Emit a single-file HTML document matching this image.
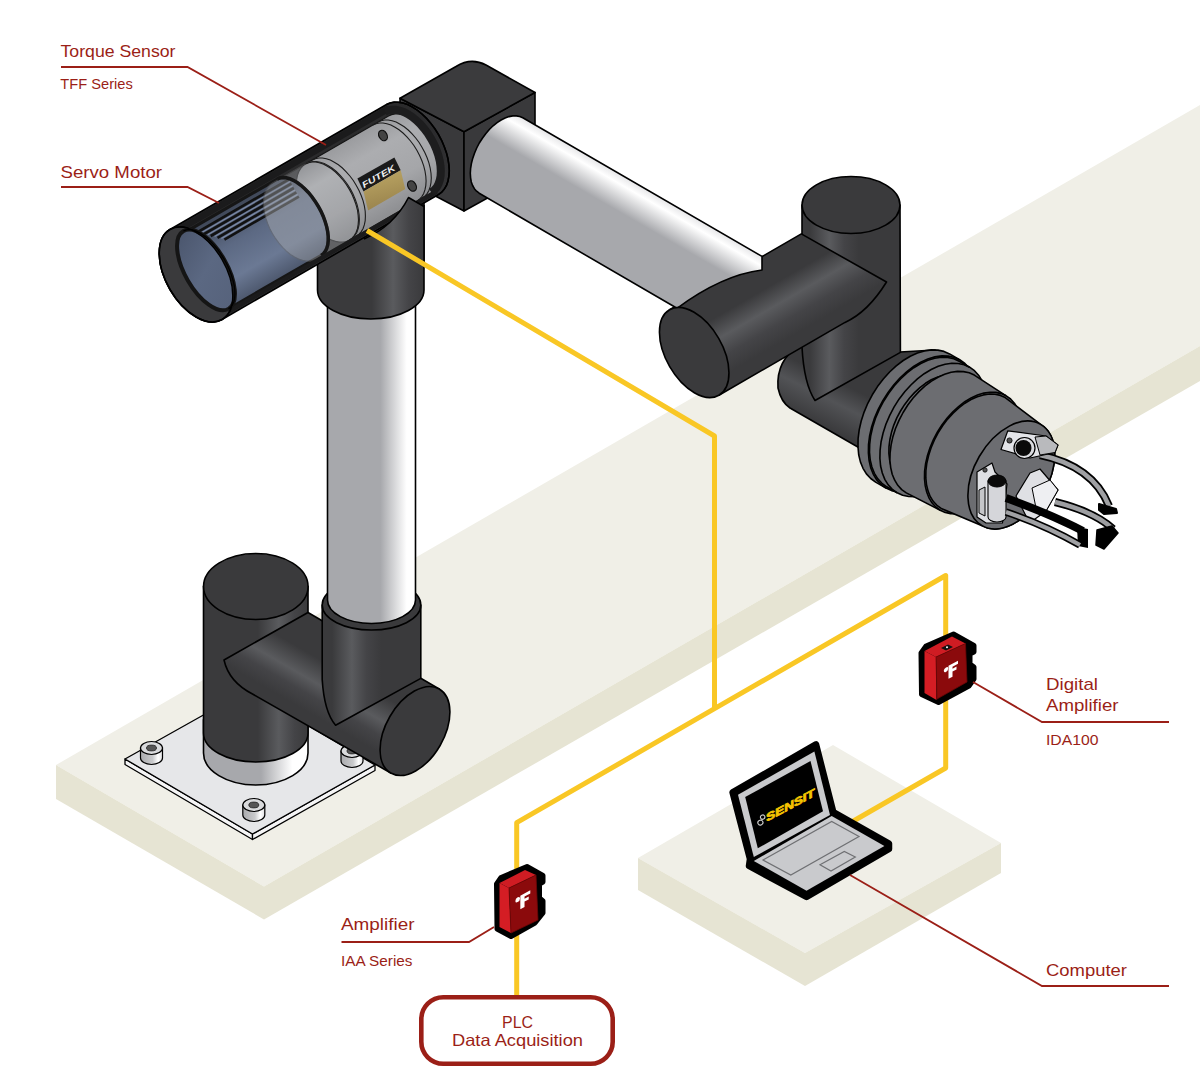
<!DOCTYPE html>
<html><head><meta charset="utf-8">
<style>
html,body{margin:0;padding:0;background:#fff;width:1200px;height:1080px;overflow:hidden}
svg{display:block}
text{font-family:"Liberation Sans",sans-serif}
</style></head><body>
<svg width="1200" height="1080" viewBox="0 0 1200 1080">
<defs>
<linearGradient id="gs151" gradientUnits="userSpaceOnUse" x1="140.5" y1="0.0" x2="162.5" y2="0.0"><stop offset="0" stop-color="#a9aaad"/><stop offset="0.55" stop-color="#c9cacc"/><stop offset="0.8" stop-color="#fff"/><stop offset="1" stop-color="#e0e0e2"/></linearGradient>
<linearGradient id="gs253" gradientUnits="userSpaceOnUse" x1="242.8" y1="0.0" x2="264.8" y2="0.0"><stop offset="0" stop-color="#a9aaad"/><stop offset="0.55" stop-color="#c9cacc"/><stop offset="0.8" stop-color="#fff"/><stop offset="1" stop-color="#e0e0e2"/></linearGradient>
<linearGradient id="gs352" gradientUnits="userSpaceOnUse" x1="341.0" y1="0.0" x2="363.0" y2="0.0"><stop offset="0" stop-color="#a9aaad"/><stop offset="0.55" stop-color="#c9cacc"/><stop offset="0.8" stop-color="#fff"/><stop offset="1" stop-color="#e0e0e2"/></linearGradient>
<linearGradient id="gcolb" gradientUnits="userSpaceOnUse" x1="203.5" y1="0.0" x2="308.0" y2="0.0"><stop offset="0" stop-color="#a7a8ac"/><stop offset="0.55" stop-color="#a7a8ac"/><stop offset="0.85" stop-color="#fff"/><stop offset="1" stop-color="#fff"/></linearGradient>
<linearGradient id="gbase" gradientUnits="userSpaceOnUse" x1="203.5" y1="0.0" x2="308.0" y2="0.0"><stop offset="0" stop-color="#3a3a3c"/><stop offset="0.52" stop-color="#3a3a3c"/><stop offset="0.72" stop-color="#5a5b5e"/><stop offset="0.87" stop-color="#444447"/><stop offset="1" stop-color="#3a3a3c"/><stop offset="1" stop-color="#3a3a3c"/></linearGradient>
<linearGradient id="glow" gradientUnits="userSpaceOnUse" x1="439.2" y1="689.0" x2="390.8" y2="773.0"><stop offset="0" stop-color="#3a3a3c"/><stop offset="0.35" stop-color="#3a3a3c"/><stop offset="0.58" stop-color="#5a5b5e"/><stop offset="0.72" stop-color="#444447"/><stop offset="0.88" stop-color="#3a3a3c"/><stop offset="1" stop-color="#3a3a3c"/></linearGradient>
<linearGradient id="gcoll" gradientUnits="userSpaceOnUse" x1="322.2" y1="0.0" x2="420.8" y2="0.0"><stop offset="0" stop-color="#3a3a3c"/><stop offset="0.09999999999999998" stop-color="#3a3a3c"/><stop offset="0.3" stop-color="#5a5b5e"/><stop offset="0.44999999999999996" stop-color="#444447"/><stop offset="0.6" stop-color="#3a3a3c"/><stop offset="1" stop-color="#3a3a3c"/></linearGradient>
<linearGradient id="gcol" gradientUnits="userSpaceOnUse" x1="327.5" y1="0.0" x2="415.5" y2="0.0"><stop offset="0" stop-color="#a7a8ac"/><stop offset="0.6" stop-color="#a7a8ac"/><stop offset="0.9" stop-color="#fff"/><stop offset="1" stop-color="#fff"/></linearGradient>
<linearGradient id="gsh" gradientUnits="userSpaceOnUse" x1="317.5" y1="0.0" x2="424.0" y2="0.0"><stop offset="0" stop-color="#3a3a3c"/><stop offset="0.51" stop-color="#3a3a3c"/><stop offset="0.71" stop-color="#5a5b5e"/><stop offset="0.86" stop-color="#444447"/><stop offset="1" stop-color="#3a3a3c"/><stop offset="1" stop-color="#3a3a3c"/></linearGradient>
<linearGradient id="ghous" gradientUnits="userSpaceOnUse" x1="170.0" y1="229.5" x2="222.0" y2="319.5"><stop offset="0" stop-color="#2a2a2b"/><stop offset="0.5" stop-color="#2c2c2e"/><stop offset="1" stop-color="#333335"/></linearGradient>
<linearGradient id="gmot" gradientUnits="userSpaceOnUse" x1="174.0" y1="236.4" x2="218.0" y2="312.6"><stop offset="0" stop-color="#3d4555"/><stop offset="0.4" stop-color="#5c6983"/><stop offset="0.75" stop-color="#6b7994"/><stop offset="1" stop-color="#4f5a70"/></linearGradient>
<linearGradient id="gsen" gradientUnits="userSpaceOnUse" x1="303.9" y1="161.4" x2="347.9" y2="237.6"><stop offset="0" stop-color="#98999c"/><stop offset="0.3" stop-color="#acadb0"/><stop offset="0.7" stop-color="#a5a6a9"/><stop offset="1" stop-color="#8f9093"/></linearGradient>
<linearGradient id="gring" gradientUnits="userSpaceOnUse" x1="174.0" y1="236.4" x2="218.0" y2="312.6"><stop offset="0" stop-color="#8a8c90"/><stop offset="0.3" stop-color="#b4b6b9"/><stop offset="1" stop-color="#9a9ca0"/></linearGradient>
<linearGradient id="ggold" gradientUnits="userSpaceOnUse" x1="380.0" y1="180.0" x2="388.0" y2="210.0"><stop offset="0" stop-color="#b39d5e"/><stop offset="1" stop-color="#97814b"/></linearGradient>
<linearGradient id="gface" gradientUnits="userSpaceOnUse" x1="183.5" y1="230.9" x2="228.5" y2="308.8"><stop offset="0" stop-color="#4a556c"/><stop offset="0.5" stop-color="#5b6882"/><stop offset="1" stop-color="#56627b"/></linearGradient>
<linearGradient id="garm" gradientUnits="userSpaceOnUse" x1="522.8" y1="117.8" x2="479.2" y2="193.2"><stop offset="0" stop-color="#e6e6e8"/><stop offset="0.1" stop-color="#fff"/><stop offset="0.38" stop-color="#a7a8ac"/><stop offset="1" stop-color="#a7a8ac"/></linearGradient>
<linearGradient id="gwr" gradientUnits="userSpaceOnUse" x1="800.0" y1="340.0" x2="770.0" y2="400.0"><stop offset="0" stop-color="#3a3a3c"/><stop offset="0.3" stop-color="#3a3a3c"/><stop offset="0.6" stop-color="#525356"/><stop offset="1" stop-color="#3a3a3c"/></linearGradient>
<linearGradient id="gev" gradientUnits="userSpaceOnUse" x1="802.0" y1="0.0" x2="900.0" y2="0.0"><stop offset="0" stop-color="#3a3a3c"/><stop offset="0.08000000000000002" stop-color="#3a3a3c"/><stop offset="0.28" stop-color="#5a5b5e"/><stop offset="0.43000000000000005" stop-color="#444447"/><stop offset="0.5800000000000001" stop-color="#3a3a3c"/><stop offset="1" stop-color="#3a3a3c"/></linearGradient>
<linearGradient id="geh" gradientUnits="userSpaceOnUse" x1="669.6" y1="309.8" x2="718.9" y2="395.2"><stop offset="0" stop-color="#3a3a3c"/><stop offset="0.3" stop-color="#3a3a3c"/><stop offset="0.5" stop-color="#5a5b5e"/><stop offset="0.68" stop-color="#444447"/><stop offset="0.85" stop-color="#3a3a3c"/><stop offset="1" stop-color="#3a3a3c"/></linearGradient>
</defs>

<!-- big table -->
<g id="table">
<polygon points="56,765 264,886.5 1200,346 1200,105" fill="#f0efe7"/>
<polygon points="56,765 264,886.5 264,919.5 56,799" fill="#e6e4d3"/>
<polygon points="264,886.5 1200,346 1200,381 264,919.5" fill="#e6e4d3"/>
</g>
<!-- small table -->
<g id="table2">
<polygon points="833,745 1001,843 805,953 638,858" fill="#f0efe7"/>
<polygon points="638,858 805,953 805,986 638,890" fill="#e6e4d3"/>
<polygon points="805,953 1001,843 1001,873 805,986" fill="#e6e4d3"/>
</g>

<!-- ROBOT -->
<g id="robot">
<polygon points="125.0,759.0 252.5,834.0 252.5,839.5 125.0,764.5" fill="#f5f5f6" stroke="#000" stroke-width="1.3" stroke-linejoin="round"/>
<polygon points="252.5,834.0 375.0,765.0 375.0,770.5 252.5,839.5" fill="#f5f5f6" stroke="#000" stroke-width="1.3" stroke-linejoin="round"/>
<polygon points="248.0,690.0 375.0,765.0 252.5,834.0 125.0,759.0" fill="#e6e7e9" stroke="#000" stroke-width="1.3" stroke-linejoin="round"/>
<path d="M140.5,748.0 L140.5,758.0 A11,6.5 0 0 0 162.5,758.0 L162.5,748.0 Z" fill="url(#gs151)" stroke="#000" stroke-width="1.2"/><ellipse cx="151.5" cy="748.0" rx="11" ry="6.5" fill="#d9dadc" stroke="#000" stroke-width="1.2"/><ellipse cx="151.5" cy="748.0" rx="5.0" ry="2.9" fill="#555" stroke="#222" stroke-width="0.8"/>
<path d="M242.8,805.0 L242.8,815.0 A11,6.5 0 0 0 264.8,815.0 L264.8,805.0 Z" fill="url(#gs253)" stroke="#000" stroke-width="1.2"/><ellipse cx="253.8" cy="805.0" rx="11" ry="6.5" fill="#d9dadc" stroke="#000" stroke-width="1.2"/><ellipse cx="253.8" cy="805.0" rx="5.0" ry="2.9" fill="#555" stroke="#222" stroke-width="0.8"/>
<path d="M341.0,751.0 L341.0,761.0 A11,6.5 0 0 0 363.0,761.0 L363.0,751.0 Z" fill="url(#gs352)" stroke="#000" stroke-width="1.2"/><ellipse cx="352.0" cy="751.0" rx="11" ry="6.5" fill="#d9dadc" stroke="#000" stroke-width="1.2"/><ellipse cx="352.0" cy="751.0" rx="5.0" ry="2.9" fill="#555" stroke="#222" stroke-width="0.8"/>
<path d="M203.5,720 L203.5,753 A52.25,32 0 0 0 308.0,753 L308.0,720 Z" fill="url(#gcolb)" stroke="#000" stroke-width="1.6"/>
<path d="M203.5,586.5 L203.5,733 A52.25,29 0 0 0 308.0,733 L308.0,586.5 Z" fill="url(#gbase)" stroke="#000" stroke-width="1.6"/>
<ellipse cx="255.8" cy="586.5" rx="52.25" ry="33" fill="#3a3a3c" stroke="#000" stroke-width="1.6"/>
<path d="M308,612.5 L439.2,689.0 L390.8,773.0 L252.5,694 Q229,682 224,660 Z" fill="url(#glow)" stroke="#000" stroke-width="1.6" stroke-linejoin="round"/>
<ellipse cx="415.0" cy="731.0" rx="29.0" ry="48.5" transform="rotate(30.00 415.0 731.0)" fill="#3a3a3c" stroke="#000" stroke-width="1.6"/>
<path d="M322.2,605 L322.2,679.5 Q324.2,712 335.6,725.3 L420.8,678.4 L420.8,605 Z" fill="url(#gcoll)" stroke="#000" stroke-width="1.6" stroke-linejoin="round"/>
<ellipse cx="371.5" cy="605" rx="49.3" ry="25" fill="#3a3a3c" stroke="#000" stroke-width="1.6"/>
<path d="M327.5,290 L327.5,600 A44,23.5 0 0 0 415.5,600 L415.5,290 Z" fill="url(#gcol)" stroke="#000" stroke-width="1.6"/>
<path d="M317.5,200 L317.5,290 A53.25,29 0 0 0 424.0,290 L424.0,200 Z" fill="url(#gsh)" stroke="#000" stroke-width="1.6"/>
<polygon points="400.0,98.2 464.0,131.7 464.0,211.0 400.0,177.5" fill="#39393b" stroke="#000" stroke-width="1.6" stroke-linejoin="round"/>
<polygon points="535.0,92.5 535.0,171.8 464.0,211.0 464.0,131.7" fill="#39393b" stroke="#000" stroke-width="1.6" stroke-linejoin="round"/>
<path d="M400,98.2 L456,66.5 Q471,57 486,65 L535,92.5 L464,131.7 Z" fill="#3b3b3d" stroke="#000" stroke-width="1.6" stroke-linejoin="round"/>
<polygon points="222.0,319.5 218.4,321.1 214.4,321.9 210.1,321.8 205.5,321.0 200.8,319.4 196.0,316.9 191.2,313.8 186.5,310.0 181.9,305.6 177.6,300.6 173.6,295.2 170.0,289.5 166.8,283.5 164.2,277.3 162.0,271.1 160.5,265.0 159.6,259.0 159.2,253.3 159.6,247.9 160.5,243.0 162.0,238.6 164.2,234.9 166.8,231.8 170.0,229.5 386.5,104.5 390.1,102.9 394.1,102.1 398.4,102.2 403.0,103.0 407.7,104.6 412.5,107.1 417.3,110.2 422.0,114.0 426.6,118.4 430.9,123.4 434.9,128.8 438.5,134.5 441.7,140.5 444.3,146.7 446.5,152.9 448.0,159.0 448.9,165.0 449.3,170.7 448.9,176.1 448.0,181.0 446.5,185.4 444.3,189.1 441.7,192.2 438.5,194.5" fill="url(#ghous)" stroke="#000" stroke-width="1.6"/>
<polygon points="349.4,240.2 346.3,241.5 343.0,242.2 339.3,242.2 335.5,241.4 331.5,240.1 327.4,238.0 323.3,235.4 319.4,232.1 315.5,228.4 311.9,224.2 308.5,219.7 305.4,214.8 302.7,209.7 300.5,204.5 298.7,199.2 297.4,194.0 296.6,189.0 296.3,184.1 296.6,179.6 297.4,175.4 298.7,171.8 300.5,168.6 302.7,166.0 305.4,164.0 388.5,116.0 391.6,114.7 395.0,114.0 398.6,114.0 402.5,114.7 406.5,116.1 410.5,118.2 414.6,120.8 418.6,124.0 422.4,127.8 426.1,132.0 429.5,136.5 432.5,141.4 435.2,146.5 437.5,151.7 439.3,156.9 440.6,162.2 441.4,167.2 441.7,172.1 441.4,176.6 440.6,180.7 439.3,184.4 437.5,187.6 435.2,190.2 432.5,192.2" fill="url(#gsen)" stroke="#151515" stroke-width="1.2"/>
<polyline points="306.3,163.5 309.3,162.2 312.7,161.5 316.4,161.5 320.2,162.2 324.2,163.6 328.3,165.7 332.3,168.3 336.3,171.5 340.2,175.3 343.8,179.5 347.2,184.0 350.3,188.9 353.0,194.0 355.2,199.2 357.0,204.4 358.3,209.7 359.1,214.7 359.4,219.6 359.1,224.1 358.3,228.2 357.0,231.9 355.2,235.1 353.0,237.7 350.3,239.7" fill="none" stroke="#1c1c1c" stroke-width="1.1"/>
<polyline points="312.3,160.0 315.4,158.7 318.8,158.0 322.4,158.0 326.3,158.7 330.3,160.1 334.3,162.2 338.4,164.8 342.4,168.0 346.2,171.8 349.9,176.0 353.3,180.5 356.3,185.4 359.0,190.5 361.3,195.7 363.1,200.9 364.4,206.2 365.2,211.2 365.4,216.1 365.2,220.6 364.4,224.7 363.1,228.4 361.3,231.6 359.0,234.2 356.3,236.2" fill="none" stroke="#1c1c1c" stroke-width="1.1"/>
<polyline points="373.0,125.0 376.0,123.7 379.4,123.0 383.0,123.0 386.9,123.7 390.9,125.1 395.0,127.2 399.0,129.8 403.0,133.0 406.9,136.8 410.5,141.0 413.9,145.5 417.0,150.4 419.6,155.5 421.9,160.7 423.7,165.9 425.0,171.2 425.8,176.2 426.1,181.1 425.8,185.6 425.0,189.7 423.7,193.4 421.9,196.6 419.6,199.2 417.0,201.2" fill="none" stroke="#1c1c1c" stroke-width="1.1"/>
<polyline points="378.1,122.0 381.2,120.7 384.6,120.0 388.2,120.0 392.1,120.7 396.1,122.1 400.1,124.2 404.2,126.8 408.2,130.0 412.1,133.8 415.7,138.0 419.1,142.5 422.1,147.4 424.8,152.5 427.1,157.7 428.9,162.9 430.2,168.2 431.0,173.2 431.3,178.1 431.0,182.6 430.2,186.7 428.9,190.4 427.1,193.6 424.8,196.2 422.1,198.2" fill="none" stroke="#1c1c1c" stroke-width="1.1"/>
<polygon points="228.5,308.8 225.9,309.9 222.8,310.4 219.6,310.1 216.1,309.2 212.4,307.7 208.6,305.5 204.8,302.7 201.0,299.3 197.3,295.5 193.8,291.2 190.5,286.6 187.5,281.7 184.8,276.7 182.4,271.5 180.5,266.3 179.0,261.2 178.0,256.3 177.5,251.6 177.5,247.2 177.9,243.2 178.9,239.7 180.3,236.8 182.2,234.4 184.5,232.6 277.2,179.1 279.9,178.0 282.9,177.6 286.2,177.8 289.7,178.7 293.3,180.3 297.1,182.5 300.9,185.3 304.7,188.7 308.4,192.5 311.9,196.7 315.2,201.4 318.2,206.2 321.0,211.3 323.3,216.5 325.2,221.7 326.7,226.8 327.7,231.7 328.2,236.4 328.2,240.8 327.8,244.7 326.8,248.2 325.4,251.2 323.5,253.6 321.2,255.3" fill="url(#gmot)" stroke="#161616" stroke-width="3"/>
<polyline points="197.1,232.3 288.9,179.3" fill="none" stroke="#111" stroke-width="2.6"/>
<polyline points="203.9,234.2 291.4,183.7" fill="none" stroke="#111" stroke-width="2.6"/>
<polyline points="210.7,236.0 293.9,188.0" fill="none" stroke="#111" stroke-width="2.6"/>
<polyline points="217.5,237.8 296.4,192.3" fill="none" stroke="#111" stroke-width="2.6"/>
<polyline points="224.4,239.6 298.9,196.6" fill="none" stroke="#111" stroke-width="2.6"/>
<polyline points="200.9,233.0 290.1,181.5" fill="none" stroke="#7b8aa8" stroke-width="1.2"/>
<polyline points="207.7,234.8 292.6,185.8" fill="none" stroke="#7b8aa8" stroke-width="1.2"/>
<polyline points="214.6,236.6 295.1,190.1" fill="none" stroke="#7b8aa8" stroke-width="1.2"/>
<polyline points="221.4,238.5 297.6,194.5" fill="none" stroke="#7b8aa8" stroke-width="1.2"/>
<g opacity="0.45"><polygon points="316.5,259.2 313.4,260.5 310.1,261.2 306.4,261.2 302.5,260.4 298.6,259.1 294.5,257.0 290.4,254.4 286.4,251.1 282.6,247.4 278.9,243.2 275.6,238.7 272.5,233.8 269.8,228.7 267.6,223.5 265.8,218.2 264.4,213.0 263.7,208.0 263.4,203.1 263.7,198.6 264.4,194.4 265.8,190.8 267.6,187.6 269.8,185.0 272.5,183.0 305.4,164.0 308.5,162.7 311.8,162.0 315.5,162.0 319.3,162.7 323.3,164.1 327.4,166.2 331.5,168.8 335.5,172.0 339.3,175.8 343.0,180.0 346.3,184.5 349.4,189.4 352.1,194.5 354.3,199.7 356.1,204.9 357.5,210.2 358.2,215.2 358.5,220.1 358.2,224.6 357.5,228.7 356.1,232.4 354.3,235.6 352.1,238.2 349.4,240.2" fill="url(#gring)" stroke="#666" stroke-width="1.2"/></g>
<polyline points="305.4,164.0 308.5,162.7 311.8,162.0 315.5,162.0 319.3,162.7 323.3,164.1 327.4,166.2 331.5,168.8 335.5,172.0 339.3,175.8 343.0,180.0 346.3,184.5 349.4,189.4 352.1,194.5 354.3,199.7 356.1,204.9 357.5,210.2 358.2,215.2 358.5,220.1 358.2,224.6 357.5,228.7 356.1,232.4 354.3,235.6 352.1,238.2 349.4,240.2" fill="none" stroke="#1c1c1c" stroke-width="1.1"/>
<polyline points="277.2,179.1 279.9,178.0 282.9,177.6 286.2,177.8 289.7,178.7 293.3,180.3 297.1,182.5 300.9,185.3 304.7,188.7 308.4,192.5 311.9,196.7 315.2,201.4 318.2,206.2 321.0,211.3 323.3,216.5 325.2,221.7 326.7,226.8 327.7,231.7 328.2,236.4 328.2,240.8 327.8,244.7 326.8,248.2 325.4,251.2 323.5,253.6 321.2,255.3" fill="none" stroke="#161616" stroke-width="3.5"/>
<polyline points="180.9,228.4 388.8,108.4" fill="none" stroke="#1b1b1c" stroke-width="6.5"/>
<polyline points="228.9,311.5 436.8,191.5" fill="none" stroke="#1b1b1c" stroke-width="4.5"/>
<polygon points="357.4,178.5 394.4,157.4 400.7,170.2 363.5,191.5" fill="#1a1a1a"/>
<polygon points="363.5,191.5 400.7,170.2 405.2,188.9 368.1,210.4" fill="url(#ggold)"/>
<text x="0" y="0" font-size="8.5" font-weight="bold" font-style="italic" fill="#eeeeee" transform="translate(364,188.2) rotate(-30)" textLength="37" lengthAdjust="spacingAndGlyphs">FUTEK</text>
<ellipse cx="412.0" cy="186.0" rx="4.0" ry="5.5" transform="rotate(-30.00 412.0 186.0)" fill="#444" stroke="#111" stroke-width="1.3"/>
<ellipse cx="383.0" cy="135.5" rx="4.0" ry="5.5" transform="rotate(-30.00 383.0 135.5)" fill="#444" stroke="#111" stroke-width="1.3"/>
<ellipse cx="196.0" cy="274.5" rx="30.0" ry="52.0" transform="rotate(-30.00 196.0 274.5)" fill="#3a3a3c" stroke="#000" stroke-width="1.6"/>
<ellipse cx="206.0" cy="269.9" rx="21.0" ry="45.0" transform="rotate(-30.00 206.0 269.9)" fill="url(#gface)" stroke="#151515" stroke-width="4"/>
<polyline points="183.5,230.9 186.1,229.9 189.0,229.5 192.2,229.8 195.6,230.9 199.2,232.6 203.0,234.9 206.8,237.8 210.5,241.3 214.2,245.3 217.8,249.6 221.1,254.4 224.2,259.4 227.0,264.5 229.4,269.8 231.4,275.1 233.0,280.3 234.2,285.3 234.8,290.0 234.9,294.4 234.6,298.4 233.8,301.9 232.5,304.8 230.7,307.1 228.5,308.8" fill="none" stroke="#000" stroke-width="1.2"/>
<ellipse cx="196.0" cy="274.5" rx="30.0" ry="52.0" transform="rotate(-30.00 196.0 274.5)" fill="none" stroke="#000" stroke-width="1.4"/>
<polyline points="384.9,111.7 388.1,110.3 391.7,109.7 395.5,109.7 399.5,110.5 403.7,112.0 408.0,114.2 412.2,117.0 416.4,120.4 420.5,124.3 424.3,128.8 427.9,133.6 431.1,138.8 434.0,144.1 436.4,149.6 438.3,155.2 439.7,160.7 440.5,166.0 440.8,171.1 440.6,175.9 439.8,180.2 438.4,184.1 436.6,187.5 434.2,190.2 431.4,192.3" fill="none" stroke="#1d1d1e" stroke-width="8"/>
<polyline points="386.5,104.5 390.1,102.9 394.1,102.1 398.4,102.2 403.0,103.0 407.7,104.6 412.5,107.1 417.3,110.2 422.0,114.0 426.6,118.4 430.9,123.4 434.9,128.8 438.5,134.5 441.7,140.5 444.3,146.7 446.5,152.9 448.0,159.0 448.9,165.0 449.3,170.7 448.9,176.1 448.0,181.0 446.5,185.4 444.3,189.1 441.7,192.2 438.5,194.5" fill="none" stroke="#000" stroke-width="1.4"/>
<path d="M364,240 Q394,226 408.5,197.5 L424,206.5 L424,262 L364,262 Z" fill="url(#gsh)" stroke="none"/>
<path d="M364,239 Q394,226 408.5,197.5 L424,206.5" fill="none" stroke="#000" stroke-width="1.6" stroke-linejoin="round"/>
<line x1="424" y1="205" x2="424" y2="262" stroke="#000" stroke-width="1.6"/>
<path d="M800,345 Q776,360 778,388 Q781,402 790,408 L870,454 L935,350 L900,352 Z" fill="url(#gwr)" stroke="#000" stroke-width="1.6" stroke-linejoin="round"/>
<path d="M802,205 L802,347 Q804,384 815,400.5 L900.4,352.4 L900,205 Z" fill="url(#gev)" stroke="#000" stroke-width="1.6" stroke-linejoin="round"/>
<ellipse cx="851" cy="205" rx="49" ry="28.5" fill="#3a3a3c" stroke="#000" stroke-width="1.6"/>
<path d="M669.6,309.8 L801.3,233.9 L886.5,282 Q868,312 845,322.4 L718.9,395.2 Z" fill="url(#geh)" stroke="#000" stroke-width="1.6" stroke-linejoin="round"/>
<path d="M479.2,193.2 L476.6,191.2 L474.4,188.7 L472.6,185.5 L471.3,181.9 L470.6,177.8 L470.3,173.3 L470.6,168.5 L471.4,163.5 L472.7,158.4 L474.5,153.2 L476.7,148.0 L479.3,143.0 L482.4,138.2 L485.7,133.7 L489.3,129.5 L493.1,125.8 L497.1,122.6 L501.1,120.0 L505.1,118.0 L509.0,116.6 L512.8,115.9 L516.4,115.9 L519.7,116.5 L522.8,117.8 L762.0,256.4 L762,270 Q722,275 677,308.3 Z" fill="url(#garm)" stroke="#000" stroke-width="1.6" stroke-linejoin="round"/>
<ellipse cx="694.2" cy="352.5" rx="28.3" ry="49.3" transform="rotate(-30.00 694.2 352.5)" fill="#3a3a3c" stroke="#000" stroke-width="1.6"/>
<polygon points="875.6,482.1 870.7,478.5 866.4,473.9 863.0,468.3 860.4,461.9 858.7,454.7 858.0,446.9 858.1,438.6 859.2,429.9 861.2,421.0 864.1,412.1 867.8,403.3 872.3,394.8 877.5,386.6 883.3,379.0 889.6,372.0 896.2,365.8 903.2,360.5 910.3,356.2 917.4,353.0 924.5,350.9 931.4,349.9 937.9,350.1 944.0,351.4 949.6,353.9 960.0,359.9 964.9,363.5 969.2,368.1 972.6,373.7 975.2,380.1 976.9,387.3 977.6,395.1 977.5,403.4 976.4,412.1 974.4,421.0 971.5,429.9 967.7,438.7 963.3,447.2 958.1,455.4 952.3,463.0 946.0,470.0 939.4,476.2 932.4,481.5 925.3,485.8 918.2,489.0 911.1,491.1 904.2,492.1 897.7,491.9 891.6,490.6 886.0,488.1" fill="#6c6d71" stroke="#000" stroke-width="1.6" stroke-linejoin="round"/><polyline points="886.0,488.1 881.1,484.5 876.8,479.9 873.4,474.3 870.8,467.9 869.1,460.7 868.4,452.9 868.5,444.6 869.6,435.9 871.6,427.0 874.5,418.1 878.2,409.3 882.7,400.8 887.9,392.6 893.7,385.0 899.9,378.0 906.6,371.8 913.6,366.5 920.7,362.2 927.8,359.0 934.9,356.9 941.8,355.9 948.3,356.1 954.4,357.4 960.0,359.9" fill="none" stroke="#000" stroke-width="1.6"/>
<polygon points="886.7,486.8 881.9,483.3 877.8,478.8 874.4,473.3 871.9,467.0 870.2,460.0 869.5,452.3 869.7,444.2 870.7,435.7 872.7,427.0 875.5,418.3 879.2,409.6 883.6,401.2 888.7,393.2 894.3,385.8 900.5,379.0 907.0,372.9 913.8,367.7 920.8,363.5 927.8,360.3 934.7,358.2 941.4,357.3 947.8,357.5 953.8,358.8 959.2,361.2 969.6,367.2 974.5,370.7 978.6,375.2 982.0,380.7 984.5,387.0 986.1,394.0 986.9,401.7 986.7,409.8 985.6,418.3 983.7,427.0 980.8,435.7 977.2,444.4 972.8,452.8 967.7,460.8 962.1,468.2 955.9,475.0 949.4,481.1 942.6,486.3 935.6,490.5 928.6,493.7 921.7,495.8 915.0,496.7 908.6,496.5 902.6,495.2 897.1,492.8" fill="#6c6d71" stroke="#000" stroke-width="1.6" stroke-linejoin="round"/><polyline points="897.1,492.8 892.3,489.3 888.2,484.8 884.8,479.3 882.3,473.0 880.6,466.0 879.9,458.3 880.1,450.2 881.1,441.7 883.1,433.0 885.9,424.3 889.6,415.6 894.0,407.2 899.0,399.2 904.7,391.8 910.9,385.0 917.4,378.9 924.2,373.7 931.2,369.5 938.2,366.3 945.1,364.2 951.8,363.3 958.2,363.5 964.2,364.8 969.6,367.2" fill="none" stroke="#000" stroke-width="1.6"/>
<polygon points="903.4,482.0 899.3,479.0 895.9,475.3 893.1,470.7 890.9,465.5 889.6,459.7 888.9,453.3 889.0,446.6 889.9,439.5 891.5,432.3 893.8,425.1 896.8,417.9 900.5,411.0 904.7,404.4 909.4,398.2 914.5,392.6 919.9,387.6 925.5,383.3 931.3,379.8 937.2,377.2 942.9,375.5 948.5,374.7 953.8,374.9 958.8,376.0 963.4,378.0 972.0,383.0 976.1,386.0 979.5,389.7 982.4,394.3 984.5,399.5 985.9,405.3 986.5,411.7 986.4,418.4 985.5,425.5 983.9,432.7 981.6,439.9 978.6,447.1 975.0,454.0 970.8,460.6 966.1,466.8 961.0,472.4 955.5,477.4 949.9,481.7 944.1,485.2 938.3,487.8 932.5,489.5 926.9,490.3 921.6,490.1 916.6,489.0 912.0,487.0" fill="#6c6d71" stroke="#000" stroke-width="1.6" stroke-linejoin="round"/><polyline points="912.0,487.0 908.0,484.0 904.5,480.3 901.7,475.7 899.6,470.5 898.2,464.7 897.6,458.3 897.7,451.6 898.5,444.5 900.2,437.3 902.5,430.1 905.5,422.9 909.1,416.0 913.3,409.4 918.0,403.2 923.1,397.6 928.5,392.6 934.2,388.3 940.0,384.8 945.8,382.2 951.6,380.5 957.2,379.7 962.5,379.9 967.5,381.0 972.0,383.0" fill="none" stroke="#000" stroke-width="1.6"/>
<polygon points="906.3,492.9 901.7,489.6 897.8,485.3 894.7,480.2 892.2,474.2 890.7,467.6 889.9,460.4 890.1,452.8 891.1,444.8 892.9,436.7 895.5,428.5 899.0,420.4 903.1,412.5 907.8,405.0 913.1,398.0 918.9,391.6 925.1,385.9 931.5,381.1 938.0,377.2 944.6,374.2 951.1,372.2 957.5,371.4 963.5,371.6 969.2,372.8 974.3,375.1 1006.2,395.8 1010.6,399.0 1014.4,403.2 1017.5,408.1 1019.8,413.9 1021.3,420.3 1022.0,427.3 1021.8,434.7 1020.8,442.4 1019.1,450.3 1016.5,458.2 1013.2,466.1 1009.2,473.8 1004.5,481.0 999.4,487.8 993.8,494.0 987.8,499.5 981.6,504.3 975.3,508.1 968.9,511.0 962.6,512.9 956.5,513.7 950.6,513.6 945.2,512.4 940.2,510.2" fill="#6c6d71" stroke="#000" stroke-width="1.6" stroke-linejoin="round"/><polyline points="940.2,510.2 935.8,507.0 932.0,502.8 929.0,497.9 926.7,492.1 925.2,485.7 924.5,478.7 924.6,471.3 925.6,463.6 927.4,455.7 930.0,447.8 933.3,439.9 937.3,432.2 941.9,425.0 947.0,418.2 952.6,412.0 958.6,406.5 964.8,401.7 971.1,397.9 977.5,395.0 983.8,393.1 990.0,392.3 995.8,392.4 1001.2,393.6 1006.2,395.8" fill="none" stroke="#000" stroke-width="1.6"/>
<polygon points="941.2,508.4 936.9,505.3 933.2,501.3 930.2,496.5 928.0,490.9 926.5,484.6 925.8,477.9 925.9,470.7 926.8,463.2 928.6,455.5 931.1,447.8 934.3,440.2 938.1,432.8 942.6,425.7 947.6,419.1 953.1,413.1 958.8,407.8 964.9,403.2 971.0,399.5 977.3,396.7 983.4,394.9 989.4,394.0 995.1,394.2 1000.4,395.4 1005.2,397.6 1040.6,424.3 1044.5,427.2 1047.9,430.9 1050.6,435.3 1052.7,440.4 1054.0,446.1 1054.7,452.3 1054.6,458.8 1053.7,465.7 1052.1,472.7 1049.8,479.8 1046.9,486.7 1043.4,493.5 1039.3,500.0 1034.7,506.0 1029.7,511.5 1024.5,516.4 1018.9,520.5 1013.3,523.9 1007.6,526.5 1002.0,528.1 996.6,528.9 991.4,528.7 986.5,527.6 982.1,525.7" fill="#6c6d71" stroke="#000" stroke-width="1.6" stroke-linejoin="round"/>
<ellipse cx="1011.3" cy="475.0" rx="37.0" ry="58.5" transform="rotate(30.00 1011.3 475.0)" fill="#6c6d71" stroke="#000" stroke-width="1.6"/>
<path d="M1040,455 Q1093,466 1109,506" fill="none" stroke="#000" stroke-width="8"/>
<path d="M1040,455 Q1093,466 1109,506" fill="none" stroke="#9fa0a3" stroke-width="4.6"/>
<polygon points="1099.0,504.0 1116.0,509.0 1117.0,513.0 1104.0,514.0 1099.0,510.0" fill="#000" stroke="#000" stroke-width="2" stroke-linejoin="round"/>
<polygon points="1001.0,449.5 1007.8,430.8 1046.0,436.0 1058.0,445.0 1055.0,452.5 1030.0,458.0" fill="#e3e4e8" stroke="#000" stroke-width="1.2" stroke-linejoin="round"/>
<polygon points="1035.0,437.0 1046.0,436.0 1058.0,445.0 1055.0,452.5 1040.0,455.0" fill="#b9babd" stroke="#000" stroke-width="1"/>
<circle cx="1024.5" cy="448" r="10.5" fill="#dcdde1" stroke="#000" stroke-width="1.2"/><circle cx="1023.5" cy="448" r="8" fill="#0a0a0a"/>
<circle cx="1009.5" cy="440.5" r="2.6" fill="#555" stroke="#000" stroke-width="0.8"/>
<polygon points="1016.0,496.0 1030.0,473.0 1040.0,469.0 1058.0,490.0 1046.0,511.0 1029.5,523.0" fill="#dfe0e4" stroke="#000" stroke-width="1.2" stroke-linejoin="round"/>
<polygon points="1032.0,488.0 1050.0,480.0 1058.0,490.0 1046.0,511.0 1036.0,508.0" fill="#eeeff2" stroke="#000" stroke-width="1"/>
<polygon points="977.0,472.0 992.0,463.0 995.0,472.0 1007.0,484.0 1002.5,523.0 986.0,523.0 977.0,517.0" fill="#dfe0e4" stroke="#000" stroke-width="1.2" stroke-linejoin="round"/>
<polygon points="979.0,490.0 985.0,487.0 985.0,516.0 979.0,513.0" fill="#c5c6c9" stroke="#000" stroke-width="1"/>
<path d="M988,481 L988,517 A9,5 0 0 0 1006,517 L1006,481 Z" fill="#d5d6da" stroke="#000" stroke-width="1.1"/>
<ellipse cx="997" cy="481" rx="9" ry="6" fill="#0a0a0a" stroke="#000" stroke-width="1"/>
<circle cx="985" cy="470" r="2.2" fill="#555" stroke="#000" stroke-width="0.7"/>
<path d="M1006,498 Q1050,514 1083,531" fill="none" stroke="#000" stroke-width="8"/>
<polygon points="1077.0,527.0 1088.0,529.0 1088.0,548.0 1078.0,546.0" fill="#000"/>
<path d="M1006,512 Q1045,525 1080,545" fill="none" stroke="#000" stroke-width="7.5"/>
<path d="M1006,512 Q1045,525 1080,545" fill="none" stroke="#a0a1a4" stroke-width="4.2"/>
<path d="M1055,502 Q1095,512 1113,529" fill="none" stroke="#000" stroke-width="8"/>
<path d="M1055,502 Q1095,512 1113,529" fill="none" stroke="#9d9ea1" stroke-width="4.6"/>
<polygon points="1097.0,530.0 1112.0,526.0 1118.0,533.0 1104.0,549.0 1096.0,545.0" fill="#000" stroke="#000" stroke-width="1.5" stroke-linejoin="round"/>
</g>

<!-- cables -->
<g id="cables" fill="none" stroke="#f9c725" stroke-width="5" stroke-linejoin="round">
<polyline points="367,230.5 714.5,436 714.5,708.7"/>
<polyline points="516.7,1000 516.7,822.7 714.5,708.7 945.7,575.5 945.7,768 836,831"/>
</g>

<polygon points="953.5,634.0 974.0,645.5 974.0,652.0 970.0,654.0 970.0,664.0 974.0,667.0 974.0,679.0 969.0,686.0 938.5,702.5 921.5,694.5 921.0,653.0 926.0,646.0" fill="#000" stroke="#000" stroke-width="5" stroke-linejoin="round"/><polygon points="924.5,651.0 936.0,657.0 936.5,700.0 924.5,693.0" fill="#d41d24"/><polygon points="924.5,651.0 952.0,636.5 965.5,643.5 936.0,657.0" fill="#cf1c23"/><polygon points="936.0,657.0 965.5,643.5 967.0,682.0 937.0,699.0" fill="#8b0a0c" stroke="#6a0606" stroke-width="0.8" stroke-linejoin="round"/><g transform="translate(952,670) scale(1.0) skewY(-28)"><path d="M-3.5,-6 L6,-6 L6,-3 L0.5,-3 L0.5,-1 L4.5,-1 L4.5,1.8 L0.5,1.8 L0.5,7 L-3.5,7 Z" fill="#fff"/><circle cx="-6" cy="-3.5" r="2.2" fill="#fff"/></g><polygon points="941,648 948,644.5 953,647 946,650.5" fill="#111"/><circle cx="947" cy="647.3" r="1" fill="#fff"/>
<polygon points="527.0,866.5 543.0,875.5 543.0,882.0 539.5,884.0 539.5,898.0 543.0,901.0 543.0,913.0 535.0,923.0 511.0,936.5 497.0,929.0 496.5,884.0 501.0,877.5" fill="#000" stroke="#000" stroke-width="5" stroke-linejoin="round"/><polygon points="499.5,883.0 509.0,888.0 511.0,933.0 499.5,927.0" fill="#d41d24"/><polygon points="499.5,883.0 525.0,870.0 536.0,875.0 509.0,888.0" fill="#cf1c23"/><polygon points="509.0,888.0 536.0,875.0 538.0,920.0 511.0,933.0" fill="#8b0a0c" stroke="#6a0606" stroke-width="0.8" stroke-linejoin="round"/><g transform="translate(524,900) scale(1.05) skewY(-28)"><path d="M-3.5,-6 L6,-6 L6,-3 L0.5,-3 L0.5,-1 L4.5,-1 L4.5,1.8 L0.5,1.8 L0.5,7 L-3.5,7 Z" fill="#fff"/><circle cx="-6" cy="-3.5" r="2.2" fill="#fff"/></g>
<polygon points="732.6,792.4 816.0,744.4 833.3,812.0 889.0,843.6 889.0,849.0 806.5,897.0 749.0,866.0 750.0,859.0" fill="#000" stroke="#000" stroke-width="6.5" stroke-linejoin="round"/>
<polygon points="738.0,794.8 814.4,751.5 830.0,815.0 753.8,857.0" fill="#c9cacd"/>
<polygon points="745.2,797.1 810.5,761.0 823.0,811.3 757.8,848.3" fill="#000"/>
<polygon points="753.8,860.9 831.7,816.0 884.4,846.0 806.5,890.8" fill="#c9cacd"/>
<polygon points="763.0,860.0 831.7,821.5 859.0,836.5 790.8,875.0" fill="none" stroke="#6f7073" stroke-width="1.2"/>
<polygon points="820.0,864.8 844.3,851.4 855.3,857.0 831.0,871.0" fill="none" stroke="#6f7073" stroke-width="1.2"/>
<text x="0" y="0" font-size="10" font-weight="bold" font-style="italic" fill="#f5c400" stroke="#f5c400" stroke-width="0.7" transform="translate(767,821.5) rotate(-28) skewX(-12)" textLength="55" lengthAdjust="spacingAndGlyphs">SENSIT</text>
<g transform="translate(761.5,820) rotate(-28)" fill="none" stroke="#cfcfcf" stroke-width="1.1"><ellipse cx="-2.2" cy="1.8" rx="2.6" ry="2.4"/><ellipse cx="2.4" cy="-2" rx="2.2" ry="2.1"/></g>
<!-- labels -->
<g id="labels" fill="#9b1f17" lengthAdjust="spacingAndGlyphs">
<text x="60.5" y="56.7" font-size="17" textLength="115" lengthAdjust="spacingAndGlyphs">Torque Sensor</text>
<text x="60.3" y="89.3" font-size="14.5" textLength="72.5" lengthAdjust="spacingAndGlyphs">TFF Series</text>
<text x="60.5" y="178" font-size="17" textLength="101.5" lengthAdjust="spacingAndGlyphs">Servo Motor</text>
<text x="341" y="930" font-size="17" textLength="73.5" lengthAdjust="spacingAndGlyphs">Amplifier</text>
<text x="341" y="966" font-size="14.5" textLength="71.5" lengthAdjust="spacingAndGlyphs">IAA Series</text>
<text x="1046" y="690.2" font-size="17" textLength="52" lengthAdjust="spacingAndGlyphs">Digital</text>
<text x="1046" y="711" font-size="17" textLength="72.5" lengthAdjust="spacingAndGlyphs">Amplifier</text>
<text x="1046" y="745" font-size="14.5" textLength="52.5" lengthAdjust="spacingAndGlyphs">IDA100</text>
<text x="1046" y="975.5" font-size="17" textLength="81" lengthAdjust="spacingAndGlyphs">Computer</text>
</g>
<g fill="none" stroke="#9b1f17" stroke-width="1.8">
<polyline points="61,67 187.5,67 326,145"/>
<polyline points="61,187 187.5,187 219,203"/>
<polyline points="341.5,942 469,942 494,927"/>
<polyline points="973,682 1042,722 1169,722"/>
<polyline points="850,875 1042,986 1169,986"/>
</g>
<!-- PLC -->
<rect x="421.3" y="997.3" width="191.4" height="66.4" rx="22" ry="22" fill="#fff" stroke="#9b1f17" stroke-width="4.6"/>
<text x="502" y="1028" font-size="16.5" fill="#9b1f17" textLength="31" lengthAdjust="spacingAndGlyphs">PLC</text>
<text x="452" y="1045.5" font-size="16.5" fill="#9b1f17" textLength="131" lengthAdjust="spacingAndGlyphs">Data Acquisition</text>
</svg>
</body></html>
